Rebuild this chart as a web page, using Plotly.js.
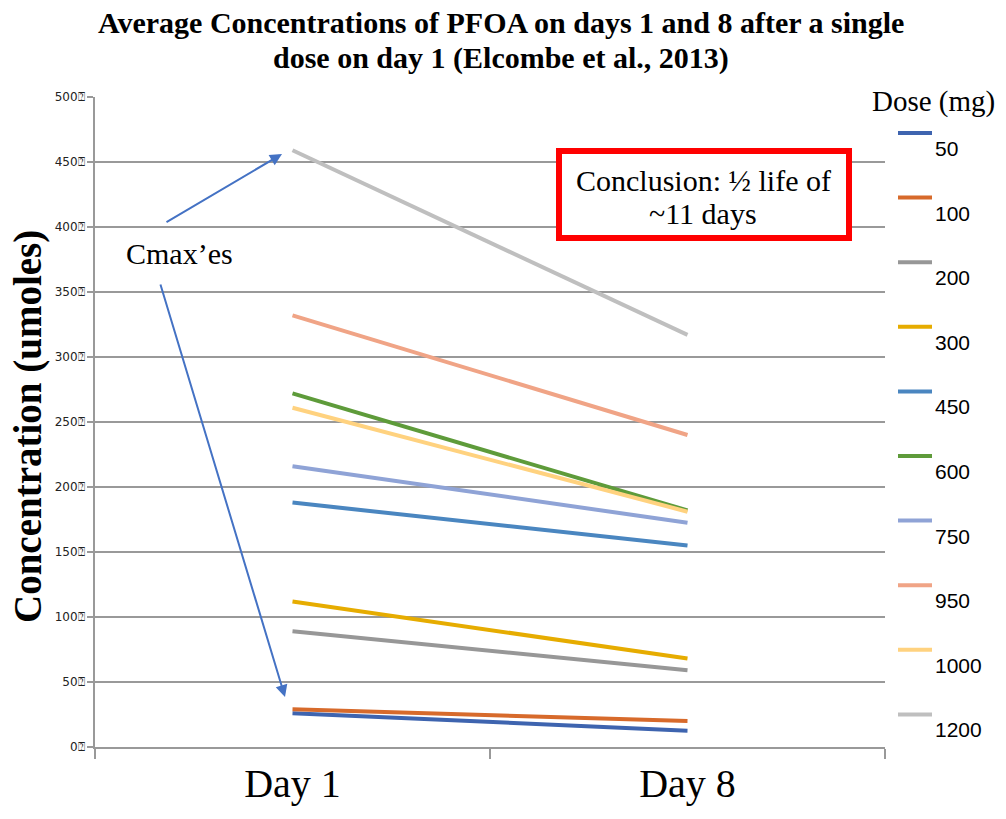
<!DOCTYPE html>
<html>
<head>
<meta charset="utf-8">
<script src="https://cdn.plot.ly/plotly-3.0.1.min.js"></script>
<style>html,body{margin:0;padding:0;background:#fff;}#chart{width:1006px;height:819px;}</style>
</head>
<body>
<div id="chart"></div>
<script>
// ---- data ----
var days = ["Day 1", "Day 8"];
var doses = ["50", "100", "200", "300", "450", "600", "750", "950", "1000", "1200"];
var day1 = [26, 29, 89, 112, 188, 272, 216, 332, 261, 459];
var day8 = [12.5, 20, 59, 68, 155, 182, 172.5, 240, 181, 317];
var colors = ["#3E64AF", "#D76A2B", "#979797", "#E6AC00", "#4A86C0", "#5E9B3A", "#8FA3D6", "#F0A486", "#FFD27F", "#BFBFBF"];
var yTickVals = [0, 50, 100, 150, 200, 250, 300, 350, 400, 450, 500];
var yTickText = yTickVals.map(function (v) { return v + "\u2370"; });
var titleLines = ["Average Concentrations of PFOA on days 1 and 8 after a single", "dose on day 1 (Elcombe et al., 2013)"];
var conclusionLines = ["Conclusion: \u00bd life of", "~11 days"];

// ---- geometry helpers (plot area 95..885 x 97..747) ----
var L = 95, R = 885, T = 97, B = 747;
function px(X) { return (X - L) / (R - L); }
function py(Y) { return (B - Y) / (B - T); }
var SERIF = "Liberation Serif, Times New Roman, serif";

var traces = doses.map(function (d, i) {
  return {
    type: "scatter", mode: "lines",
    x: days, y: [day1[i], day8[i]],
    name: d, line: { color: colors[i], width: 4 },
    showlegend: false, hoverinfo: "skip"
  };
});

var shapes = [];
var annotations = [];

// title (two lines)
titleLines.forEach(function (t, i) {
  annotations.push({
    xref: "paper", yref: "paper", x: px(501), y: py(23 + i * 35), xanchor: "center", yanchor: "middle",
    text: "<b>" + t + "</b>", showarrow: false,
    font: { family: SERIF, size: 30, color: "#000" }
  });
});

// custom legend
annotations.push({
  xref: "paper", yref: "paper", x: px(870), y: py(101), xanchor: "left", yanchor: "middle",
  text: "Dose (mg)", showarrow: false, bgcolor: "#fff",
  font: { family: SERIF, size: 29, color: "#000" }
});
doses.forEach(function (d, i) {
  var yl = 133 + i * 64.6;
  shapes.push({
    type: "line", xref: "paper", yref: "paper",
    x0: px(898), x1: px(932), y0: py(yl), y1: py(yl),
    line: { color: colors[i], width: 4 }
  });
  annotations.push({
    xref: "paper", yref: "paper", x: px(933), y: py(yl + 15.5), xanchor: "left", yanchor: "middle",
    text: d, showarrow: false,
    font: { family: "Liberation Sans, Arial, sans-serif", size: 21, color: "#000" }
  });
});

// conclusion box
shapes.push({
  type: "rect", xref: "paper", yref: "paper",
  x0: px(559), x1: px(849), y0: py(151), y1: py(238),
  line: { color: "#FF0000", width: 6 }, fillcolor: "#fff", layer: "above"
});
conclusionLines.forEach(function (t, i) {
  annotations.push({
    xref: "paper", yref: "paper", x: px(703), y: py(180 + i * 33), xanchor: "center", yanchor: "middle",
    text: t, showarrow: false,
    font: { family: SERIF, size: 30, color: "#000" }
  });
});

// Cmax'es label and arrows
annotations.push({
  xref: "paper", yref: "paper", x: px(124), y: py(253), xanchor: "left", yanchor: "middle",
  text: "Cmax\u2019es", showarrow: false,
  font: { family: SERIF, size: 30, color: "#000" }
});
annotations.push({
  xref: "paper", yref: "paper", x: px(282), y: py(154), text: "", showarrow: true,
  ax: -117, ay: 69, arrowhead: 2, arrowsize: 1.2, arrowwidth: 2, arrowcolor: "#4472C4", standoff: 0
});
annotations.push({
  xref: "paper", yref: "paper", x: px(285), y: py(697), text: "", showarrow: true,
  ax: -125, ay: -414, arrowhead: 2, arrowsize: 1.2, arrowwidth: 2, arrowcolor: "#4472C4", standoff: 0
});

// y-axis title
annotations.push({
  xref: "paper", yref: "paper", x: px(28), y: py(427), xanchor: "center", yanchor: "middle",
  text: "<b>Concentration (umoles)</b>", textangle: -90, showarrow: false,
  font: { family: SERIF, size: 39, color: "#000" }
});

var layout = {
  width: 1006, height: 819,
  margin: { l: L, r: 1006 - R, t: T, b: 819 - B, pad: 0 },
  paper_bgcolor: "#fff", plot_bgcolor: "#fff",
  xaxis: {
    type: "category", range: [-0.5, 1.5], tickson: "boundaries",
    ticks: "outside", ticklen: 10, tickwidth: 2, tickcolor: "#999",
    showline: true, linecolor: "#999", linewidth: 2, showgrid: false, zeroline: false,
    tickfont: { family: SERIF, size: 40, color: "#000" }
  },
  yaxis: {
    range: [0, 500], tickvals: yTickVals, ticktext: yTickText,
    ticks: "outside", ticklen: 6, tickwidth: 2, tickcolor: "#999",
    showline: true, linecolor: "#999", linewidth: 2,
    showgrid: true, gridcolor: "#999", gridwidth: 2, zeroline: false,
    tickfont: { family: "DejaVu Sans, Verdana, sans-serif", size: 12, color: "#222" }
  },
  shapes: shapes,
  annotations: annotations
};

Plotly.newPlot("chart", traces, layout, { displayModeBar: false, staticPlot: true });
</script>
</body>
</html>
